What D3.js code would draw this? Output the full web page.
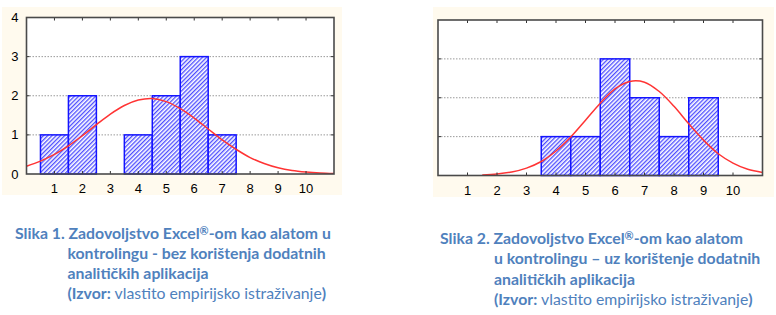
<!DOCTYPE html>
<html>

<head>
    <meta charset="utf-8" />
    <script src="https://d3js.org/d3.v7.min.js"></script>
    <style>
        body {
            margin: 0;
            background: #ffffff;
        }

        .axis-num {
            font-family: 'Liberation Sans', Arial, sans-serif;
            font-size: 13px;
            fill: #000;
        }

        .caption {
            font-family: Lato, 'Open Sans', sans-serif;
            font-size: 15.8px;
            fill: #4f81bd;
            font-weight: bold;
        }
    </style>
</head>

<body>
    <script>
        // data
        const bins = [1, 2, 3, 4, 5, 6, 7, 8, 9, 10];
        const counts1 = [1, 2, 0, 1, 2, 3, 1, 0, 0, 0];
        const counts2 = [0, 0, 0, 1, 1, 3, 2, 1, 2, 0];

        // fitted normal curves, every 0.5
        const curveX1 = [0, 0.5, 1, 1.5, 2, 2.5, 3, 3.5, 4, 4.5, 5, 5.5, 6, 6.5, 7, 7.5, 8, 8.5, 9, 9.5, 10, 10.5, 11];
        const curveY1 = [0.20, 0.33, 0.50, 0.72, 0.98, 1.26, 1.53, 1.75, 1.89, 1.93, 1.85, 1.67, 1.43, 1.15, 0.87, 0.63, 0.42, 0.27, 0.16, 0.09, 0.05, 0.025, 0.012];
        const curveX2 = [1.5, 2, 2.5, 3, 3.5, 4, 4.5, 5, 5.5, 6, 6.5, 7, 7.5, 8, 8.5, 9, 9.5, 10, 10.5, 11];
        const curveY2 = [0.016, 0.04, 0.09, 0.19, 0.36, 0.63, 0.99, 1.42, 1.86, 2.23, 2.42, 2.40, 2.16, 1.78, 1.33, 0.91, 0.56, 0.32, 0.16, 0.08];

        const yTicks = [0, 1, 2, 3, 4];

        const caption1 = [
            [{ t: 'Slika 1. Zadovoljstvo Excel' }, { t: '®', sup: true }, { t: '-om kao alatom u' }],
            [{ t: 'kontrolingu - bez korištenja dodatnih' }],
            [{ t: 'analitičkih aplikacija' }],
            [{ t: '(Izvor: ' }, { t: 'vlastito empirijsko istraživanje', normal: true }, { t: ')' }]
        ];
        const caption2 = [
            [{ t: 'Slika 2. Zadovoljstvo Excel' }, { t: '®', sup: true }, { t: '-om kao alatom' }],
            [{ t: 'u kontrolingu – uz korištenje dodatnih' }],
            [{ t: 'analitičkih aplikacija' }],
            [{ t: '(Izvor: ' }, { t: 'vlastito empirijsko istraživanje', normal: true }, { t: ')' }]
        ];

        const svg = d3.select('body')
            .append('svg')
            .attr('width', 776)
            .attr('height', 315);

        // hatch pattern for bars
        const defs = svg.append('defs');
        defs.append('pattern')
            .attr('id', 'hatch')
            .attr('patternUnits', 'userSpaceOnUse')
            .attr('width', 3)
            .attr('height', 3)
            .attr('patternTransform', 'rotate(45)')
            .call(p => {
                p.append('rect').attr('width', 3).attr('height', 3).attr('fill', '#ffffff');
                p.append('line')
                    .attr('x1', 0.7).attr('y1', 0)
                    .attr('x2', 0.7).attr('y2', 3)
                    .attr('stroke', '#3a3aff')
                    .attr('stroke-width', 1.2);
            });

        function drawChart(cfg) {
            const g = svg.append('g');

            // beige frame
            g.append('rect')
                .attr('x', cfg.frame[0]).attr('y', cfg.frame[1])
                .attr('width', cfg.frame[2]).attr('height', cfg.frame[3])
                .attr('fill', '#fffaee');

            const x = d3.scaleLinear().domain([0, 11]).range([cfg.left, cfg.right]);
            const y = d3.scaleLinear().domain([0, 4]).range([cfg.bottom, cfg.top]);

            g.append('rect')
                .attr('x', cfg.left).attr('y', cfg.top)
                .attr('width', cfg.right - cfg.left).attr('height', cfg.bottom - cfg.top)
                .attr('fill', '#ffffff');

            const clipId = 'clip' + cfg.id;
            defs.append('clipPath').attr('id', clipId)
                .append('rect')
                .attr('x', cfg.left).attr('y', cfg.top)
                .attr('width', cfg.right - cfg.left).attr('height', cfg.bottom - cfg.top);

            // dotted gridlines
            g.selectAll('.grid')
                .data([1, 2, 3])
                .enter()
                .append('line')
                .attr('x1', cfg.left).attr('x2', cfg.right)
                .attr('y1', d => y(d)).attr('y2', d => y(d))
                .attr('stroke', '#9a9a9a')
                .attr('stroke-width', 1)
                .attr('stroke-dasharray', '1.5,1.5');

            // bars
            const data = bins.map((b, i) => ({ b: b, c: cfg.counts[i] })).filter(d => d.c > 0);
            g.selectAll('.bar')
                .data(data)
                .enter()
                .append('rect')
                .attr('x', d => x(d.b - 0.5))
                .attr('y', d => y(d.c))
                .attr('width', d => x(d.b + 0.5) - x(d.b - 0.5))
                .attr('height', d => y(0) - y(d.c))
                .attr('fill', 'url(#hatch)')
                .attr('stroke', '#1414ff')
                .attr('stroke-width', 1.5);

            // normal curve
            const pts = cfg.cx.map((v, i) => [v, cfg.cy[i]]);
            g.append('path')
                .datum(pts)
                .attr('clip-path', `url(#${clipId})`)
                .attr('fill', 'none')
                .attr('stroke', '#ff3434')
                .attr('stroke-width', 1.5)
                .attr('d', d3.line().x(d => x(d[0])).y(d => y(d[1])).curve(d3.curveCatmullRom));

            // inner tick marks
            const ticks = g.append('g').attr('stroke', '#333').attr('stroke-width', 1);
            bins.forEach(b => {
                ticks.append('line').attr('x1', x(b)).attr('x2', x(b)).attr('y1', cfg.top).attr('y2', cfg.top + 3);
                ticks.append('line').attr('x1', x(b)).attr('x2', x(b)).attr('y1', cfg.bottom).attr('y2', cfg.bottom - 3);
            });
            [1, 2, 3].forEach(v => {
                ticks.append('line').attr('x1', cfg.right).attr('x2', cfg.right - 3).attr('y1', y(v)).attr('y2', y(v));
                ticks.append('line').attr('x1', cfg.left).attr('x2', cfg.left + 3).attr('y1', y(v)).attr('y2', y(v));
            });

            // plot border
            g.append('rect')
                .attr('x', cfg.left).attr('y', cfg.top)
                .attr('width', cfg.right - cfg.left).attr('height', cfg.bottom - cfg.top)
                .attr('fill', 'none')
                .attr('stroke', '#4a4a4a')
                .attr('stroke-width', 1.6);

            // x labels
            g.selectAll('.xl')
                .data(bins)
                .enter()
                .append('text')
                .attr('class', 'axis-num')
                .attr('x', d => x(d))
                .attr('y', cfg.bottom + 19)
                .attr('text-anchor', 'middle')
                .text(d => d);

            if (cfg.yLabels) {
                g.selectAll('.yl')
                    .data(yTicks)
                    .enter()
                    .append('text')
                    .attr('class', 'axis-num')
                    .attr('x', cfg.left - 8)
                    .attr('y', d => y(d) + 4.5)
                    .attr('text-anchor', 'end')
                    .text(d => d);
            }
        }

        drawChart({
            id: 1, frame: [2, 7, 340, 188],
            left: 26.5, right: 334, top: 17.5, bottom: 174,
            counts: counts1, cx: curveX1, cy: curveY1, yLabels: true
        });
        drawChart({
            id: 2, frame: [433, 7, 341, 190],
            left: 438, right: 762.5, top: 20, bottom: 175.5,
            counts: counts2, cx: curveX2, cy: curveY2, yLabels: false
        });

        function drawCaption(lines, x0, indent, y0, lh) {
            lines.forEach((parts, i) => {
                const t = svg.append('text')
                    .attr('class', 'caption')
                    .attr('x', i === 0 ? x0 : indent)
                    .attr('y', y0 + i * lh);
                parts.forEach(p => {
                    const s = t.append('tspan').text(p.t);
                    if (p.normal) s.style('font-weight', 'normal');
                    if (p.sup) s.attr('font-size', '11px').attr('baseline-shift', '35%');
                });
            });
        }

        drawCaption(caption1, 15, 67.5, 238.5, 20);
        drawCaption(caption2, 440, 494, 243.5, 20.5);
    </script>
</body>

</html>
